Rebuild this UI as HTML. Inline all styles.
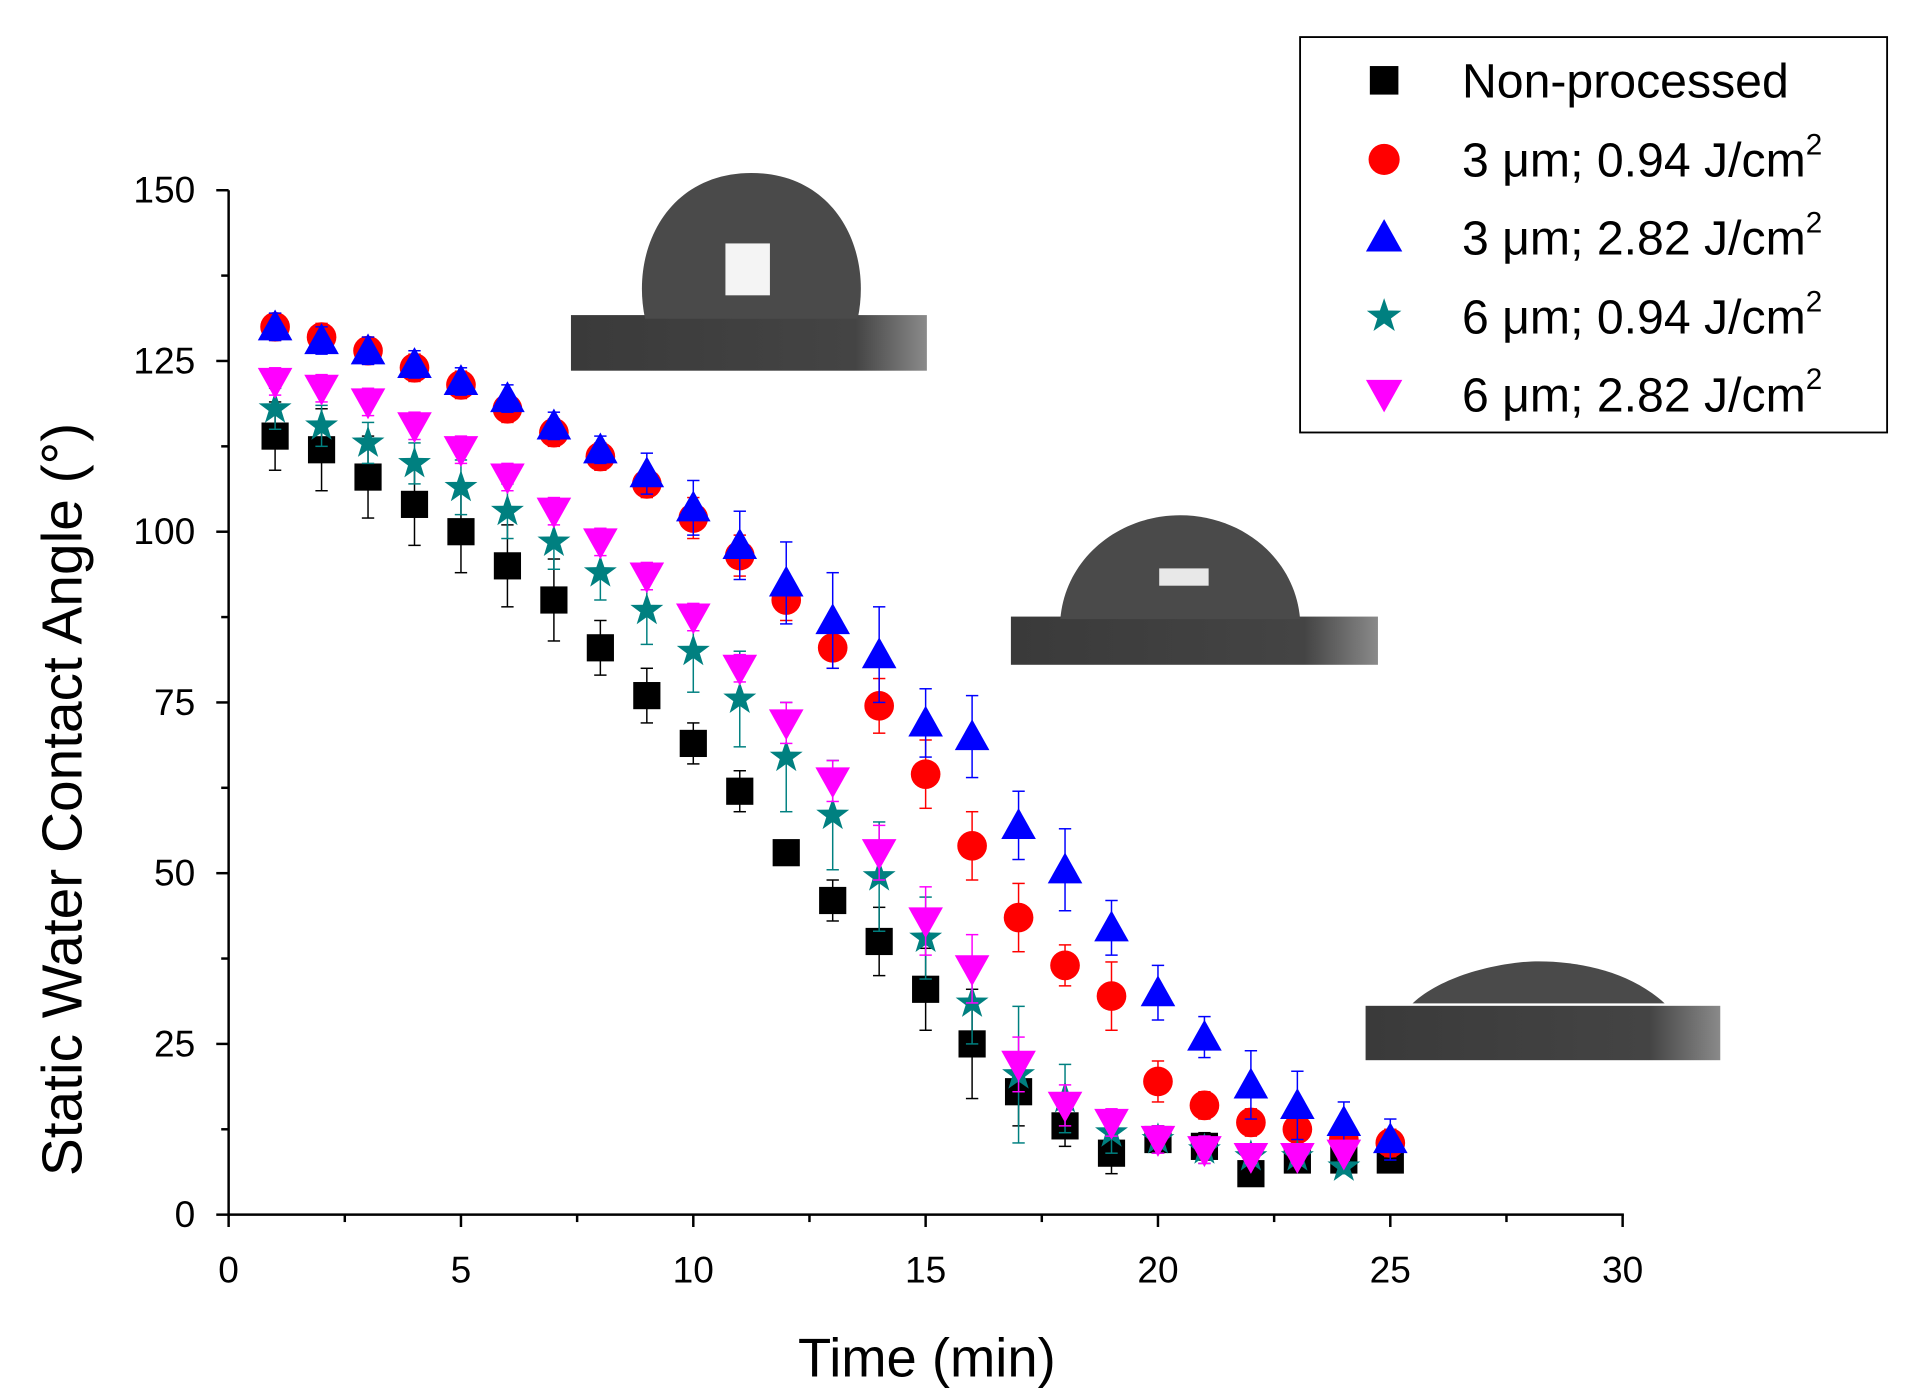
<!DOCTYPE html>
<html><head><meta charset="utf-8"><style>html,body{margin:0;padding:0;background:#fff}svg{display:block}</style></head>
<body>
<svg id="s" width="1918" height="1400" viewBox="0 -2 1552 1133" preserveAspectRatio="none" xmlns="http://www.w3.org/2000/svg" font-family="Liberation Sans, Arial, sans-serif">
<rect y="-2" width="1552" height="1137" fill="#fff"/>
<defs>
<linearGradient id="sub" x1="0" x2="1" y1="0" y2="0"><stop offset="0" stop-color="#3a3a3a"/><stop offset="0.8" stop-color="#444"/><stop offset="1" stop-color="#8a8a8a"/></linearGradient>
</defs>
<rect x="462" y="253" width="288" height="45" fill="url(#sub)"/>
<path d="M522,256 C510,200 540,138 608,138 C676,138 706,200 694,256 Z" fill="#4a4a4a"/>
<rect x="587" y="195" width="36" height="42" fill="#f4f4f4"/>
<rect x="818" y="497" width="297" height="39" fill="url(#sub)"/>
<path d="M858,499 C862,450 905,415 955,415 C1005,415 1048,450 1052,499 Z" fill="#4a4a4a"/>
<rect x="938" y="458" width="40" height="14" fill="#e8e8e8"/>
<rect x="1105" y="812" width="287" height="44" fill="url(#sub)"/>
<path d="M1143,810 C1170,785 1220,776 1245,776 C1280,776 1320,785 1347,810 Z" fill="#4a4a4a"/>
<g id="plot"></g>
<g stroke="#000" stroke-width="2" fill="none">
<line x1="185" y1="152" x2="185" y2="982"/>
<line x1="184" y1="981" x2="1314" y2="981"/>
</g>
<g id="ticks" stroke="#000" stroke-width="2"></g>
<g font-size="30" fill="#000" id="tl"></g>
<text x="750" y="1112" font-size="44" text-anchor="middle">Time (min)</text>
<text transform="translate(66,645) rotate(-90)" font-size="46" text-anchor="middle">Static Water Contact Angle (°)</text>
<rect x="1052" y="28" width="475" height="320" fill="#fff" stroke="#000" stroke-width="1.5"/>
<g font-size="39" fill="#000" id="leg">
<text x="1183" y="77">Non-processed</text>
<text x="1183" y="141">3 μm; 0.94 J/cm<tspan font-size="24" dy="-18">2</tspan></text>
<text x="1183" y="204">3 μm; 2.82 J/cm<tspan font-size="24" dy="-18">2</tspan></text>
<text x="1183" y="268">6 μm; 0.94 J/cm<tspan font-size="24" dy="-18">2</tspan></text>
<text x="1183" y="331">6 μm; 2.82 J/cm<tspan font-size="24" dy="-18">2</tspan></text>
</g>
<g id="legm"></g>
</svg>
<script>
var NS="http://www.w3.org/2000/svg";
function X(t){return 185+t*37.6}function Y(v){return 981-v*5.527}
function el(p,n,a){var e=document.createElementNS(NS,n);for(var k in a)e.setAttribute(k,a[k]);p.appendChild(e);return e}
var tk=document.getElementById('ticks'),tl=document.getElementById('tl');
for(var t=0;t<=30;t+=2.5){var maj=t%5==0;el(tk,'line',{x1:X(t),x2:X(t),y1:981,y2:981+(maj?10:6)});
 if(maj){var e=el(tl,'text',{x:X(t),y:1036,'text-anchor':'middle'});e.textContent=t;}}
for(var v=0;v<=150;v+=12.5){var maj=v%25==0;el(tk,'line',{x1:185,x2:185-(maj?10:6),y1:Y(v),y2:Y(v)});
 if(maj){var e=el(tl,'text',{x:158,y:Y(v)+10,'text-anchor':'end'});e.textContent=v;}}
function mark(g,type,x,y,c,s){s=s||1;
 if(type=='sq')el(g,'rect',{x:x-11*s,y:y-11*s,width:22*s,height:22*s,fill:c});
 else if(type=='ci')el(g,'circle',{cx:x,cy:y,r:12*s,fill:c});
 else if(type=='up')el(g,'polygon',{points:(x)+','+(y-14*s)+' '+(x-14*s)+','+(y+11*s)+' '+(x+14*s)+','+(y+11*s),fill:c});
 else if(type=='dn')el(g,'polygon',{points:(x)+','+(y+14*s)+' '+(x-14*s)+','+(y-11*s)+' '+(x+14*s)+','+(y-11*s),fill:c});
 else{var p='';for(var i=0;i<10;i++){var r=(i%2?5.5:14)*s,a=-Math.PI/2+i*Math.PI/5;p+=(x+r*Math.cos(a))+','+(y+r*Math.sin(a))+' ';}el(g,'polygon',{points:p,fill:c});}}
var S=[
['sq','#000',[114,112,108,104,100,95,90,83,76,69,62,53,46,40,33,25,18,13,9,11,10,6,8,8,8],[5,6,6,6,6,6,6,4,4,3,3,1,3,5,6,8,5,3,3,2,2,1,1,1,1]],
['ci','#f00',[130,128.5,126.5,124,121.5,118,114.5,111,107,102,96.5,90,83,74.5,64.5,54,43.5,36.5,32,19.5,16,13.5,12.5,11,10.5],[2,2,2,2,2,2,2,2,2,3,3,3,3,4,5,5,5,3,5,3,2,2,2,2,2]],
['up','#00f',[130,128,126.5,124.5,122,119.5,115.5,112,108.5,103.5,98,92.5,87,82,72,70,57,50.5,42,32.5,26,19,16,13.5,11],[2,2,2,2,2,2,2,2,3,4,5,6,7,7,5,6,5,6,4,4,3,5,5,3,3]],
['st','#008080',[118,115.5,113,110,106.5,103,98.5,94,88.5,82.5,75.5,67,58.5,49.5,40.5,31,20.5,17,12,11,9.5,8.5,8.5,7],[3,3,3,3,4,4,4,4,5,6,7,8,8,8,6,6,10,5,3,2,2,1,1,1]],
['dn','#f0f',[122,121,119,115.5,112,108,103,98.5,93.5,87.5,80,72,63.5,53,43,36,22,16,13.5,11,9.5,8.5,8.5,9],[2,2,2,2,2,2,2,2,2,2,2,3,3,4,5,5,4,3,2,2,2,1,1,1]]];
var g=document.getElementById('plot');
S.forEach(function(s){s[2].forEach(function(v,i){var x=X(i+1),e=s[3][i];
 el(g,'line',{x1:x,x2:x,y1:Y(v-e),y2:Y(v+e),stroke:s[1],'stroke-width':1.2});
 [v-e,v+e].forEach(function(w){el(g,'line',{x1:x-5,x2:x+5,y1:Y(w),y2:Y(w),stroke:s[1],'stroke-width':1.2})});});
 s[2].forEach(function(v,i){mark(g,s[0],X(i+1),Y(v),s[1]);});});
var lm=document.getElementById('legm'),ly=[63,127,190,254,317];
S.forEach(function(s,i){mark(lm,s[0],1120,ly[i],s[1],1.05);});
</script>
</body></html>
